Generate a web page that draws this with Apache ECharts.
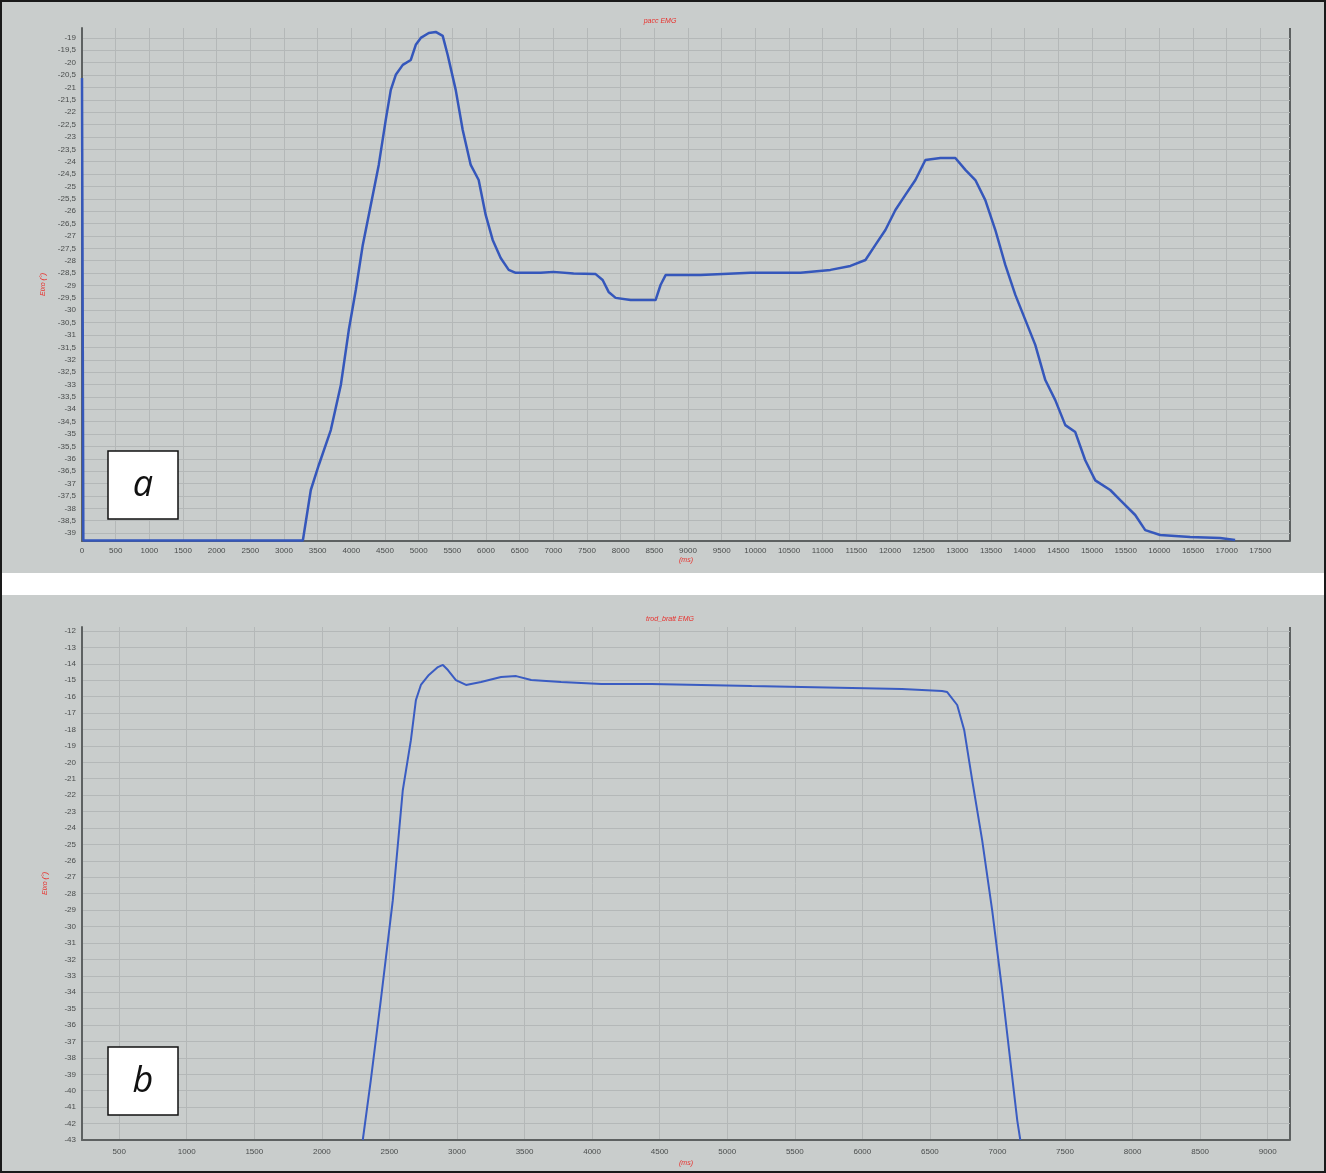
<!DOCTYPE html>
<html>
<head>
<meta charset="utf-8">
<script src="https://cdn.jsdelivr.net/npm/echarts@6/dist/echarts.min.js"></script>
<style>
  html, body { margin: 0; padding: 0; background: #ffffff; }
  #frame { position: absolute; left: 0; top: 0; width: 1322px; height: 1169px; border: 2px solid #1a1a1a; background: #ffffff; }
  #panelA { position: absolute; left: 0; top: 0; width: 1322px; height: 571px; background: #c9cdcc; }
  #panelB { position: absolute; left: 0; top: 593px; width: 1322px; height: 576px; background: #c9cdcc; }
  #chart { position: absolute; left: 0; top: 0; width: 1326px; height: 1173px; }
</style>
</head>
<body>
<div id="frame"><div id="panelA"></div><div id="panelB"></div></div>
<div id="chart"></div>
<script>
// ---- Data (panel a) ----
const topTime  = [0, 20, 3280, 3398, 3517, 3695, 3844, 3962, 4066, 4170, 4289, 4407, 4511, 4586, 4660, 4764, 4883, 4957, 5031, 5150, 5253, 5357, 5431, 5550, 5654, 5773, 5891, 5995, 6099, 6218, 6337, 6441, 6812, 7000, 7300, 7628, 7732, 7821, 7925, 8147, 8518, 8592, 8667, 9186, 9928, 10670, 11115, 11412, 11635, 11783, 11931, 12080, 12228, 12377, 12525, 12748, 12970, 13119, 13267, 13415, 13564, 13712, 13861, 14009, 14157, 14306, 14454, 14603, 14751, 14899, 15048, 15270, 15419, 15641, 15790, 16012, 16457, 16902, 17125];
const topAngle = [-20.62, -39.3, -39.3, -37.26, -36.25, -34.84, -33.02, -30.80, -29.18, -27.36, -25.75, -24.13, -22.31, -21.10, -20.49, -20.09, -19.89, -19.28, -19.00, -18.80, -18.76, -18.92, -19.69, -21.10, -22.72, -24.13, -24.74, -26.15, -27.16, -27.89, -28.37, -28.49, -28.49, -28.45, -28.52, -28.54, -28.78, -29.26, -29.50, -29.59, -29.59, -28.98, -28.58, -28.58, -28.49, -28.49, -28.37, -28.21, -27.97, -27.36, -26.76, -25.95, -25.34, -24.74, -23.93, -23.85, -23.85, -24.33, -24.74, -25.55, -26.76, -28.17, -29.38, -30.39, -31.40, -32.82, -33.63, -34.64, -34.92, -36.06, -36.87, -37.26, -37.67, -38.27, -38.88, -39.08, -39.16, -39.20, -39.28];
const topXTicks = [0, 500, 1000, 1500, 2000, 2500, 3000, 3500, 4000, 4500, 5000, 5500, 6000, 6500, 7000, 7500, 8000, 8500, 9000, 9500, 10000, 10500, 11000, 11500, 12000, 12500, 13000, 13500, 14000, 14500, 15000, 15500, 16000, 16500, 17000, 17500];
const topYTicks = [-19, -19.5, -20, -20.5, -21, -21.5, -22, -22.5, -23, -23.5, -24, -24.5, -25, -25.5, -26, -26.5, -27, -27.5, -28, -28.5, -29, -29.5, -30, -30.5, -31, -31.5, -32, -32.5, -33, -33.5, -34, -34.5, -35, -35.5, -36, -36.5, -37, -37.5, -38, -38.5, -39];

// ---- Data (panel b) ----
const botTime  = [2303, 2362, 2436, 2525, 2599, 2659, 2696, 2733, 2792, 2859, 2896, 2933, 2992, 3067, 3178, 3326, 3438, 3549, 3771, 4068, 4439, 4810, 5181, 5552, 5923, 6293, 6590, 6628, 6702, 6754, 6813, 6887, 6961, 7035, 7095, 7147, 7169];
const botAngle = [-43.0, -39.39, -34.51, -28.41, -21.70, -18.65, -16.21, -15.29, -14.68, -14.20, -14.07, -14.38, -14.99, -15.29, -15.11, -14.81, -14.75, -14.99, -15.11, -15.23, -15.23, -15.29, -15.36, -15.42, -15.48, -15.54, -15.66, -15.72, -16.51, -18.04, -21.09, -24.75, -29.02, -33.90, -38.17, -41.83, -43.0];
const botXTicks = [500, 1000, 1500, 2000, 2500, 3000, 3500, 4000, 4500, 5000, 5500, 6000, 6500, 7000, 7500, 8000, 8500, 9000];
const botYTicks = [-12, -13, -14, -15, -16, -17, -18, -19, -20, -21, -22, -23, -24, -25, -26, -27, -28, -29, -30, -31, -32, -33, -34, -35, -36, -37, -38, -39, -40, -41, -42, -43];

const titles = ['pacc EMG', 'trod_bratt EMG'];
const yName = 'Eixo (°)';
const xName = '(ms)';

function zip(a, b) { return a.map((v, i) => [v, b[i]]); }
const fmt = v => String(v).replace('.', ',');
const fmtX = v => String(v);

const labelStyle = { color: '#4a4d4d', fontSize: 8, fontFamily: 'Liberation Sans, Arial, sans-serif' };
const gridLine = { show: true, lineStyle: { color: '#b4b8b8', width: 1 } };
const axisLine = { show: true, onZero: false, lineStyle: { color: '#5d6161', width: 2 } };
const nameStyle = { color: '#e8302c', fontSize: 7, fontStyle: 'italic', fontFamily: 'Liberation Sans, Arial, sans-serif' };

const chart = echarts.init(document.getElementById('chart'), null, { renderer: 'canvas' });
chart.setOption({
  backgroundColor: 'transparent',
  animation: false,
  title: [
    { text: titles[0], left: 655, top: 13, textAlign: 'center', textStyle: { color: '#e8302c', fontSize: 7, fontStyle: 'italic', fontWeight: 'normal' } },
    { text: titles[1], left: 665, top: 611, textAlign: 'center', textStyle: { color: '#e8302c', fontSize: 7, fontStyle: 'italic', fontWeight: 'normal' } }
  ],
  grid: [
    { left: 82, top: 28, width: 1208, height: 513, containLabel: false },
    { left: 82, top: 627, width: 1208, height: 513, containLabel: false }
  ],
  xAxis: [
    { type: 'value', gridIndex: 0, min: 0, max: 17940, axisLine: axisLine,
      axisTick: { show: false, customValues: topXTicks },
      axisLabel: Object.assign({ customValues: topXTicks, margin: 6, formatter: fmtX }, labelStyle),
      splitLine: gridLine,
      name: xName, nameLocation: 'middle', nameGap: 16, nameTextStyle: nameStyle },
    { type: 'value', gridIndex: 1, min: 225, max: 9165, axisLine: axisLine,
      axisTick: { show: false, customValues: botXTicks },
      axisLabel: Object.assign({ customValues: botXTicks, margin: 8, formatter: fmtX }, labelStyle),
      splitLine: gridLine,
      name: xName, nameLocation: 'middle', nameGap: 20, nameTextStyle: nameStyle }
  ],
  yAxis: [
    { type: 'value', gridIndex: 0, min: -39.32, max: -18.6, axisLine: axisLine,
      axisTick: { show: false, customValues: topYTicks },
      axisLabel: Object.assign({ customValues: topYTicks, margin: 6, formatter: fmt }, labelStyle),
      splitLine: gridLine,
      name: yName, nameLocation: 'middle', nameGap: 33, nameRotate: 90, nameTextStyle: nameStyle },
    { type: 'value', gridIndex: 1, min: -43, max: -11.76, axisLine: axisLine,
      axisTick: { show: false, customValues: botYTicks },
      axisLabel: Object.assign({ customValues: botYTicks, margin: 6, formatter: fmt }, labelStyle),
      splitLine: gridLine,
      name: yName, nameLocation: 'middle', nameGap: 33, nameRotate: 90, nameTextStyle: nameStyle }
  ],
  series: [
    { type: 'line', xAxisIndex: 0, yAxisIndex: 0, data: zip(topTime, topAngle), showSymbol: false, clip: true,
      lineStyle: { color: '#3557bb', width: 2.5 } },
    { type: 'line', xAxisIndex: 1, yAxisIndex: 1, data: zip(botTime, botAngle), showSymbol: false, clip: true,
      lineStyle: { color: '#3a5cc2', width: 2 } }
  ],
  graphic: [
    { type: 'line', shape: { x1: 1290, y1: 28, x2: 1290, y2: 541 }, style: { stroke: '#5d6161', lineWidth: 2 } },
    { type: 'line', shape: { x1: 1290, y1: 627, x2: 1290, y2: 1140 }, style: { stroke: '#5d6161', lineWidth: 2 } },
    { type: 'rect', shape: { x: 108, y: 451, width: 70, height: 68 }, style: { fill: '#ffffff', stroke: '#111111', lineWidth: 1.5 }, z: 100 },
    { type: 'text', x: 143, y: 486, style: { text: 'a', fill: '#111111', font: 'italic 36px "Open Sans", sans-serif', textAlign: 'center', textVerticalAlign: 'middle' }, z: 101 },
    { type: 'rect', shape: { x: 108, y: 1047, width: 70, height: 68 }, style: { fill: '#ffffff', stroke: '#111111', lineWidth: 1.5 }, z: 100 },
    { type: 'text', x: 143, y: 1082, style: { text: 'b', fill: '#111111', font: 'italic 36px "Open Sans", sans-serif', textAlign: 'center', textVerticalAlign: 'middle' }, z: 101 }
  ]
});
</script>
</body>
</html>
